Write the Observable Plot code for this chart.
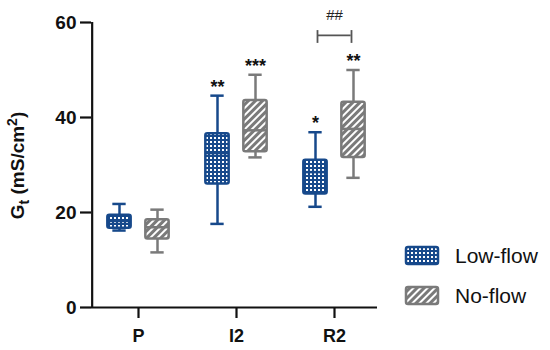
<!DOCTYPE html>
<html><head><meta charset="utf-8">
<script src="https://cdn.jsdelivr.net/npm/d3@7"></script>
<script src="https://cdn.jsdelivr.net/npm/@observablehq/plot@0.6"></script>
<style>body{margin:0;background:#fff}</style>
</head><body><div id="chart"></div>
<script>
// ---- data ----
const groups = ["P", "I2", "R2"];
const seriesNames = ["Low-flow", "No-flow"];
const lowMin = [16.2, 17.6, 21.2];
const lowQ1  = [16.7, 26.0, 23.9];
const lowMed = [18.2, 32.5, 28.5];
const lowQ3  = [19.4, 36.6, 31.0];
const lowMax = [21.8, 44.6, 36.9];
const noMin  = [11.6, 31.6, 27.3];
const noQ1   = [14.4, 32.8, 31.6];
const noMed  = [16.9, 37.3, 37.6];
const noQ3   = [18.5, 43.6, 43.2];
const noMax  = [20.6, 49.0, 50.0];
const lowStars = ["", "**", "*"];
const noStars  = ["", "***", "**"];
const yTicks = [0, 20, 40, 60];
const bracketGroup = "R2";
const bracketLabel = "##";
const bracketValue = 57.3;
const bracketCapLow = 55.6, bracketCapHigh = 58.3;
const bracketLabelValue = 61.5;

// ---- styles ----
const blue = "#17498b", gray = "#7a7a7a";
const colors = {"Low-flow": blue, "No-flow": gray};
const fills = {"Low-flow": "url(#checker)", "No-flow": "url(#hatch)"};
const offsets = {"Low-flow": -19, "No-flow": 19};
const xRange = [88, 384];
const frameLeft = 91;
const band = (xRange[1] - xRange[0]) / groups.length;
const boxInset = (band - 24) / 2;
const capInset = (band - 14) / 2;
const font = "Liberation Sans, Arial, sans-serif";

function rows(name, mins, q1s, meds, q3s, maxs, stars) {
  return groups.map((g, i) => ({group: g, series: name, min: mins[i], q1: q1s[i], med: meds[i], q3: q3s[i], max: maxs[i], stars: stars[i]}));
}
const data = {
  "Low-flow": rows("Low-flow", lowMin, lowQ1, lowMed, lowQ3, lowMax, lowStars),
  "No-flow": rows("No-flow", noMin, noQ1, noMed, noQ3, noMax, noStars)
};

const marks = [];
for (const s of seriesNames) {
  const d = data[s], dx = offsets[s], c = colors[s];
  const common = {x: "group", dx, stroke: c, strokeWidth: 2.5};
  marks.push(Plot.ruleX(d, {...common, y1: "q3", y2: "max"}));
  marks.push(Plot.ruleX(d, {...common, y1: "min", y2: "q1"}));
  marks.push(Plot.tickY(d, {...common, y: "max", insetLeft: capInset, insetRight: capInset}));
  marks.push(Plot.tickY(d, {...common, y: "min", insetLeft: capInset, insetRight: capInset}));
  marks.push(Plot.rectY(d, {...common, y1: "q1", y2: "q3", fill: fills[s], insetLeft: boxInset, insetRight: boxInset, rx: 2}));
  marks.push(Plot.tickY(d, {...common, y: "med", insetLeft: boxInset, insetRight: boxInset}));
  marks.push(Plot.text(d, {x: "group", y: "max", dx, dy: -3, text: "stars", lineAnchor: "bottom", fontSize: 18, fontWeight: "bold", fill: "#111"}));
}
// significance bracket
const br = [{group: bracketGroup, y: bracketValue, lo: bracketCapLow, hi: bracketCapHigh, label: bracketLabel, ly: bracketLabelValue}];
marks.push(Plot.tickY(br, {x: "group", y: "y", stroke: "#555", strokeWidth: 1.8, insetLeft: band / 2 - 17, insetRight: band / 2 - 17}));
marks.push(Plot.ruleX(br, {x: "group", y1: "lo", y2: "hi", dx: -17, stroke: "#555", strokeWidth: 1.8}));
marks.push(Plot.ruleX(br, {x: "group", y1: "lo", y2: "hi", dx: 17, stroke: "#555", strokeWidth: 1.8}));
marks.push(Plot.text(br, {x: "group", y: "ly", text: "label", fontSize: 15, fill: "#222"}));

const chart = Plot.plot({
  width: 550, height: 350,
  marginLeft: 91, marginRight: 173, marginTop: 22, marginBottom: 43,
  style: {fontFamily: font, background: "#fff", color: "#111"},
  x: {type: "band", domain: groups, range: xRange, padding: 0},
  y: {domain: [0, 60]},
  marks: [
    Plot.axisY({ticks: yTicks, tickSize: 11, tickPadding: 4, strokeWidth: 2.2, fontSize: 19, fontWeight: "bold", label: null}),
    Plot.axisX({tickSize: 11, tickPadding: 11, strokeWidth: 2.2, fontSize: 18, fontWeight: "bold", label: null}),
    // axis lines: x axis along y = 0, y axis along the frame's left edge
    Plot.ruleY([0], {strokeWidth: 2.2}),
    Plot.ruleX([groups[0]], {x: d => d, y1: 0, y2: 60, dx: frameLeft - (xRange[0] + band / 2), strokeWidth: 2.2}),
    ...marks
  ]
});

// patterns
const svg = d3.select(chart);
const defs = svg.insert("defs", ":first-child");
const chk = defs.append("pattern").attr("id", "checker").attr("patternUnits", "userSpaceOnUse").attr("width", 4).attr("height", 4);
chk.append("rect").attr("width", 4).attr("height", 4).attr("fill", blue);
chk.append("rect").attr("x", 1).attr("y", 1).attr("width", 2).attr("height", 2).attr("fill", "#fff");
const hat = defs.append("pattern").attr("id", "hatch").attr("patternUnits", "userSpaceOnUse").attr("width", 5).attr("height", 5).attr("patternTransform", "rotate(45)");
hat.append("rect").attr("width", 5).attr("height", 5).attr("fill", gray);
hat.append("rect").attr("width", 2).attr("height", 5).attr("fill", "#fff");

// y label with subscript / superscript
const yl = svg.append("text").attr("transform", "translate(24,165.5) rotate(-90)").attr("text-anchor", "middle")
  .attr("font-family", font).attr("font-size", 19).attr("font-weight", "bold").attr("fill", "#111");
yl.append("tspan").text("G");
yl.append("tspan").attr("font-size", 14).attr("dy", 5).text("t");
yl.append("tspan").attr("dy", -5).text(" (mS/cm");
yl.append("tspan").attr("font-size", 14).attr("dy", -7).text("2");
yl.append("tspan").attr("dy", 7).text(")");

// legend
const lg = svg.append("g").attr("font-family", font).attr("text-anchor", "start");
seriesNames.forEach((s, i) => {
  const g = lg.append("g").attr("transform", `translate(406,${247 + i * 40})`);
  g.append("rect").attr("width", 32).attr("height", 17).attr("rx", 2).attr("fill", fills[s]).attr("stroke", colors[s]).attr("stroke-width", 2.5);
  g.append("text").attr("x", 49).attr("y", 8.5).attr("dy", "0.35em").attr("font-size", 21).attr("fill", "#111").text(s);
});

document.getElementById("chart").appendChild(chart);
</script>
</body></html>
